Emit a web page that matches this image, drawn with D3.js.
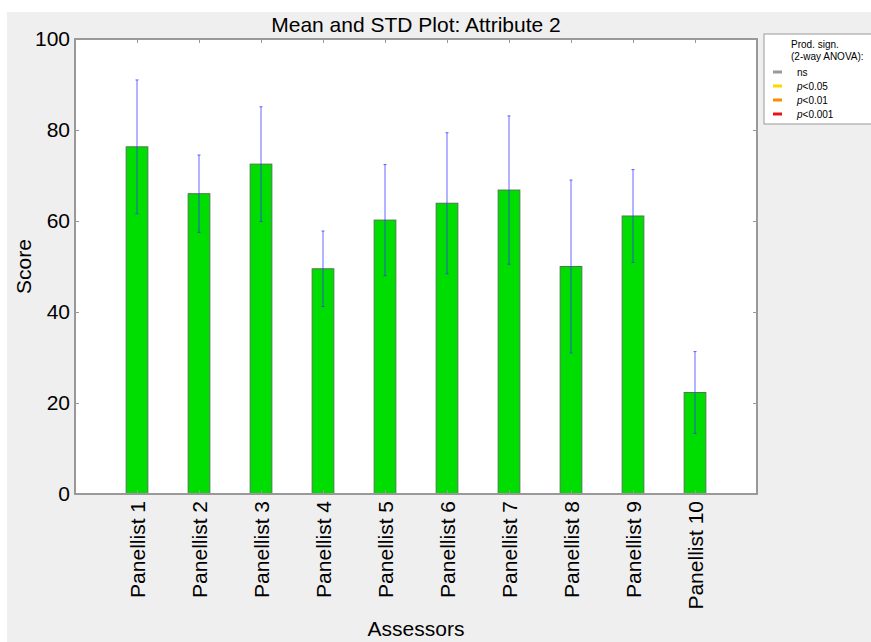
<!DOCTYPE html>
<html><head><meta charset="utf-8">
<script src="https://cdn.jsdelivr.net/npm/d3@7"></script>
<style>body{margin:0;background:#fff;}svg{display:block;font-family:"Liberation Sans",Arial,sans-serif;}</style>
</head><body>
<script>
const categories = ["Panellist 1","Panellist 2","Panellist 3","Panellist 4","Panellist 5","Panellist 6","Panellist 7","Panellist 8","Panellist 9","Panellist 10"];
const means = [76.3, 66.0, 72.5, 49.5, 60.2, 63.9, 66.8, 50.0, 61.1, 22.3];
const stds = [14.7, 8.5, 12.6, 8.3, 12.2, 15.5, 16.3, 19.0, 10.2, 9.0];
const yTicks = [0, 20, 40, 60, 80, 100];
const legendLabels = ["ns", "p<0.05", "p<0.01", "p<0.001"];
const legendColors = ["#999999", "#ffd700", "#ff8c00", "#e8141b"];

const W = 871, H = 642;
const svg = d3.select("body").append("svg").attr("width", W).attr("height", H);
svg.append("rect").attr("x", 7).attr("y", 12).attr("width", W - 7).attr("height", H - 12).attr("fill", "#efefef");

const L = 75, R = 757, T = 39, B = 494;
const x = d3.scaleLinear().domain([0, categories.length + 1]).range([L, R]);
const y = d3.scaleLinear().domain([0, 100]).range([B, T]);
const bw = (x(1) - x(0)) * 0.35;

svg.append("rect").attr("x", L).attr("y", T).attr("width", R - L).attr("height", B - T).attr("fill", "#fff");

// bars
svg.selectAll(".bar").data(means).enter().append("rect")
  .attr("x", (d, i) => x(i + 1) - bw / 2).attr("y", d => y(d))
  .attr("width", bw).attr("height", d => B - y(d))
  .attr("fill", "#00dd00").attr("stroke", "#4a7a4a").attr("stroke-width", 1);

// error bars
const eb = svg.append("g").attr("stroke", "#3333ff").attr("stroke-opacity", 0.75).attr("stroke-width", 1);
means.forEach((m, i) => {
  const cx = x(i + 1);
  eb.append("line").attr("x1", cx).attr("x2", cx).attr("y1", y(m - stds[i])).attr("y2", y(m + stds[i]));
  eb.append("line").attr("x1", cx - 1.5).attr("x2", cx + 1.5).attr("y1", y(m - stds[i])).attr("y2", y(m - stds[i]));
  eb.append("line").attr("x1", cx - 1.5).attr("x2", cx + 1.5).attr("y1", y(m + stds[i])).attr("y2", y(m + stds[i]));
});

// axes
const FS = 21;
const xt = d3.range(1, categories.length + 1);
const axB = d3.axisBottom(x).tickValues(xt).tickFormat(d => categories[d - 1]).tickSizeInner(-4).tickSizeOuter(0).tickPadding(8);
const gB = svg.append("g").attr("transform", `translate(0,${B})`).call(axB);
gB.selectAll("text").attr("transform", "rotate(-90)").attr("text-anchor", "end").attr("dy", "0.35em").attr("x", -7).attr("y", 0)
  .attr("font-size", FS).attr("fill", "#000");
const gT = svg.append("g").attr("transform", `translate(0,${T})`).call(d3.axisTop(x).tickValues(xt).tickFormat("").tickSizeInner(-4).tickSizeOuter(0));
const gL = svg.append("g").attr("transform", `translate(${L},0)`).call(d3.axisLeft(y).tickValues(yTicks).tickSizeInner(-4).tickSizeOuter(0).tickPadding(6));
gL.selectAll("text").attr("font-size", FS).attr("fill", "#000").attr("x", -5);
const gR = svg.append("g").attr("transform", `translate(${R},0)`).call(d3.axisRight(y).tickValues(yTicks).tickFormat("").tickSizeInner(-4).tickSizeOuter(0));
[gB, gT, gL, gR].forEach(g => { g.select(".domain").remove(); g.selectAll("line").attr("stroke", "#999"); });

svg.append("rect").attr("x", L).attr("y", T).attr("width", R - L).attr("height", B - T)
  .attr("fill", "none").attr("stroke", "#999").attr("stroke-width", 2);

// titles
svg.append("text").attr("x", (L + R) / 2).attr("y", 32).attr("text-anchor", "middle").attr("font-size", FS).text("Mean and STD Plot: Attribute 2");
svg.append("text").attr("x", (L + R) / 2).attr("y", 636).attr("text-anchor", "middle").attr("font-size", FS).text("Assessors");
svg.append("text").attr("transform", `translate(31,${(T + B) / 2}) rotate(-90)`).attr("text-anchor", "middle").attr("font-size", FS).text("Score");

// legend
const lg = svg.append("g");
lg.append("rect").attr("x", 764).attr("y", 34).attr("width", 120).attr("height", 90).attr("fill", "#fff").attr("stroke", "#999").attr("stroke-width", 1);
lg.append("text").attr("x", 791).attr("y", 48).attr("font-size", 10).text("Prod. sign.");
lg.append("text").attr("x", 791).attr("y", 60).attr("font-size", 10).text("(2-way ANOVA):");
legendLabels.forEach((lab, i) => {
  const yy = 72 + i * 14;
  lg.append("line").attr("x1", 773).attr("x2", 782).attr("y1", yy).attr("y2", yy).attr("stroke", legendColors[i]).attr("stroke-width", 3);
  const t = lg.append("text").attr("x", 797).attr("y", yy + 3.5).attr("font-size", 10);
  if (lab.startsWith("p")) { t.append("tspan").attr("font-style", "italic").text("p"); t.append("tspan").text(lab.slice(1)); }
  else t.text(lab);
});
</script>
</body></html>
